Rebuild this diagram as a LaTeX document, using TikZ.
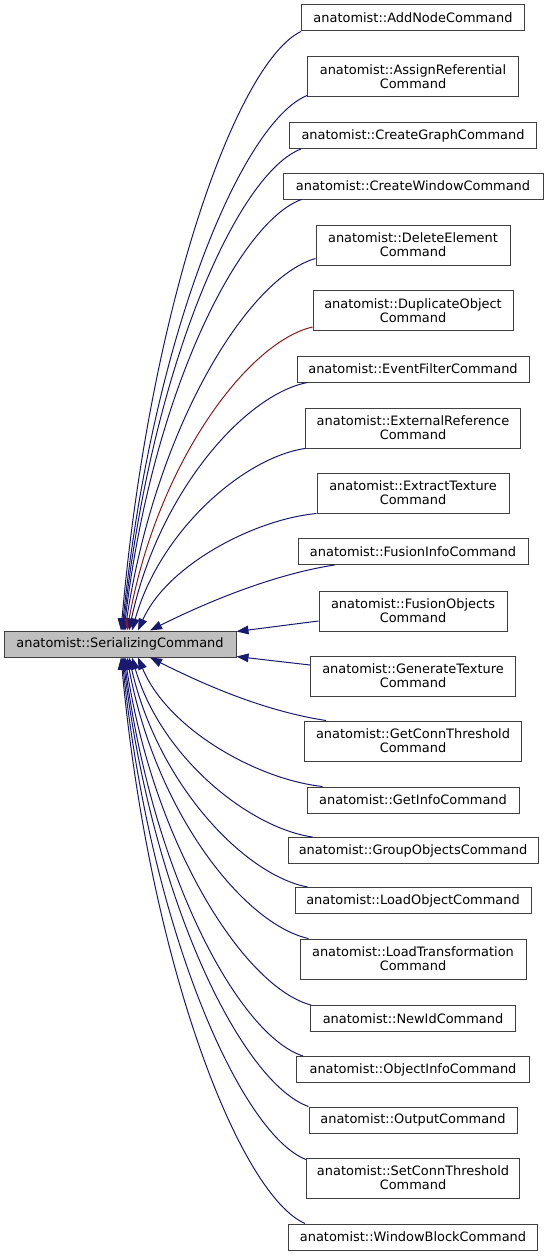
\documentclass[tikz,border=0pt]{standalone}
\usepackage{fontspec}
\setmainfont{DejaVu Sans}
\usetikzlibrary{arrows.meta,calc}
\definecolor{edgeblue}{RGB}{25,25,112}
\definecolor{edgered}{RGB}{139,26,26}
\definecolor{basegray}{RGB}{191,191,191}
\begin{document}
\begin{tikzpicture}[x=0.75pt,y=-0.75pt,
  cls/.style={draw=black!75, line width=0.75pt, fill=white, align=center, inner sep=0pt,
    font=\fontsize{9.7}{10.4}\selectfont, minimum height=19.5pt},
  two/.style={minimum height=30pt},
  wd/.style={minimum width={#1*0.75pt}},
  inh/.style={draw=edgeblue, line width=0.75pt, -{Triangle[length=9pt,width=6.5pt,fill=edgeblue]}},
  inhred/.style={draw=edgered, line width=0.75pt, -{Triangle[length=9pt,width=6.5pt,fill=edgered]}}]
\useasboundingbox (0,0) rectangle (548,1256);

\node[cls, wd=232, fill=basegray] (base) at (120,644) {anatomist::SerializingCommand};

\node[cls, wd=223] (c1) at (413,18) {anatomist::AddNodeCommand};
\node[cls, two, wd=211] (c2) at (413,77) {anatomist::AssignReferential\\Command};
\node[cls, wd=247] (c3) at (413,135.5) {anatomist::CreateGraphCommand};
\node[cls, wd=260] (c4) at (413,186) {anatomist::CreateWindowCommand};
\node[cls, two, wd=194] (c5) at (413,245) {anatomist::DeleteElement\\Command};
\node[cls, two, wd=200] (c6) at (413,310.5) {anatomist::DuplicateObject\\Command};
\node[cls, wd=232] (c7) at (413,369) {anatomist::EventFilterCommand};
\node[cls, two, wd=215] (c8) at (413,428) {anatomist::ExternalReference\\Command};
\node[cls, two, wd=192] (c9) at (413,493) {anatomist::ExtractTexture\\Command};
\node[cls, wd=230] (c10) at (413,551.5) {anatomist::FusionInfoCommand};
\node[cls, two, wd=188] (c11) at (413,611) {anatomist::FusionObjects\\Command};
\node[cls, two, wd=205] (c12) at (413,676) {anatomist::GenerateTexture\\Command};
\node[cls, two, wd=217] (c13) at (413,741) {anatomist::GetConnThreshold\\Command};
\node[cls, wd=212] (c14) at (413,800) {anatomist::GetInfoCommand};
\node[cls, wd=250] (c15) at (413,850.5) {anatomist::GroupObjectsCommand};
\node[cls, wd=236] (c16) at (413,900.5) {anatomist::LoadObjectCommand};
\node[cls, two, wd=226] (c17) at (413,959) {anatomist::LoadTransformation\\Command};
\node[cls, wd=205] (c18) at (413,1018.5) {anatomist::NewIdCommand};
\node[cls, wd=233] (c19) at (413,1069.5) {anatomist::ObjectInfoCommand};
\node[cls, wd=208] (c20) at (413,1120) {anatomist::OutputCommand};
\node[cls, two, wd=213] (c21) at (413,1178) {anatomist::SetConnThreshold\\Command};
\node[cls, wd=249] (c22) at (413,1237) {anatomist::WindowBlockCommand};

% upper edges
\draw[inh] (c1.south west) .. controls +(-63,30) and +(29,-330) .. ($(base.north)+(1,0)$);
\draw[inh] ($(c2.south west)+(0,-2)$) .. controls +(-65,27) and +(30,-295) .. ($(base.north)+(2,0)$);
\draw[inh] ($(c3.south west)+(12,0)$) .. controls +(-63,24) and +(29,-266) .. ($(base.north)+(3,0)$);
\draw[inh] ($(c4.south west)+(19,0)$) .. controls +(-62,22) and +(28,-238) .. ($(base.north)+(4,0)$);
\draw[inh] ($(c5.south west)+(0,-7)$) .. controls +(-67,19) and +(31,-205) .. ($(base.north)+(5,0)$);
\draw[inhred] ($(c6.south west)+(0,-4)$) .. controls +(-65,15) and +(30,-167) .. ($(base.north)+(7,0)$);
\draw[inh] ($(c7.south west)+(11,0)$) .. controls +(-63,12) and +(29,-137) .. ($(base.north)+(9,0)$);
\draw[inh] (c8.south west) .. controls +(-61,9) and +(28,-100) .. ($(base.north)+(12,0)$);
\draw[inh] (c9.south west) .. controls +(-63,6) and +(29,-65) .. ($(base.north)+(18,0)$);
\draw[inh] ($(c10.south west)+(37,0)$) .. controls +(-65,10) and +(50,-25) .. ($(base.north)+(30,0)$);
\draw[inh] ($(c11.west)+(0,10)$) -- ($(base.north east)+(0,1)$);
% lower edges
\draw[inh] ($(c12.west)+(0,-11)$) -- ($(base.south east)+(0,-1)$);
\draw[inh] ($(c13.north west)+(22,0)$) .. controls +(-65,-10) and +(50,25) .. ($(base.south)+(30,0)$);
\draw[inh] ($(c14.north west)+(16,0)$) .. controls +(-65,-7) and +(30,72) .. ($(base.south)+(18,0)$);
\draw[inh] ($(c15.north west)+(25,0)$) .. controls +(-63,-9) and +(29,100) .. ($(base.south)+(12,0)$);
\draw[inh] ($(c16.north west)+(13,0)$) .. controls +(-63,-12) and +(29,127) .. ($(base.south)+(9,0)$);
\draw[inh] ($(c17.north west)+(9,0)$) .. controls +(-64,-14) and +(29,156) .. ($(base.south)+(7,0)$);
\draw[inh] ($(c18.north west)+(1,0)$) .. controls +(-65,-17) and +(30,192) .. ($(base.south)+(5,0)$);
\draw[inh] ($(c19.north west)+(7,0)$) .. controls +(-63,-20) and +(29,220) .. ($(base.south)+(4,0)$);
\draw[inh] (c20.north west) .. controls +(-65,-23) and +(30,248) .. ($(base.south)+(3,0)$);
\draw[inh] ($(c21.north west)+(0,2)$) .. controls +(-64,-25) and +(29,277) .. ($(base.south)+(2,0)$);
\draw[inh] ($(c22.north west)+(17,0)$) .. controls +(-64,-28) and +(29,312) .. ($(base.south)+(1,0)$);
\end{tikzpicture}
\end{document}
